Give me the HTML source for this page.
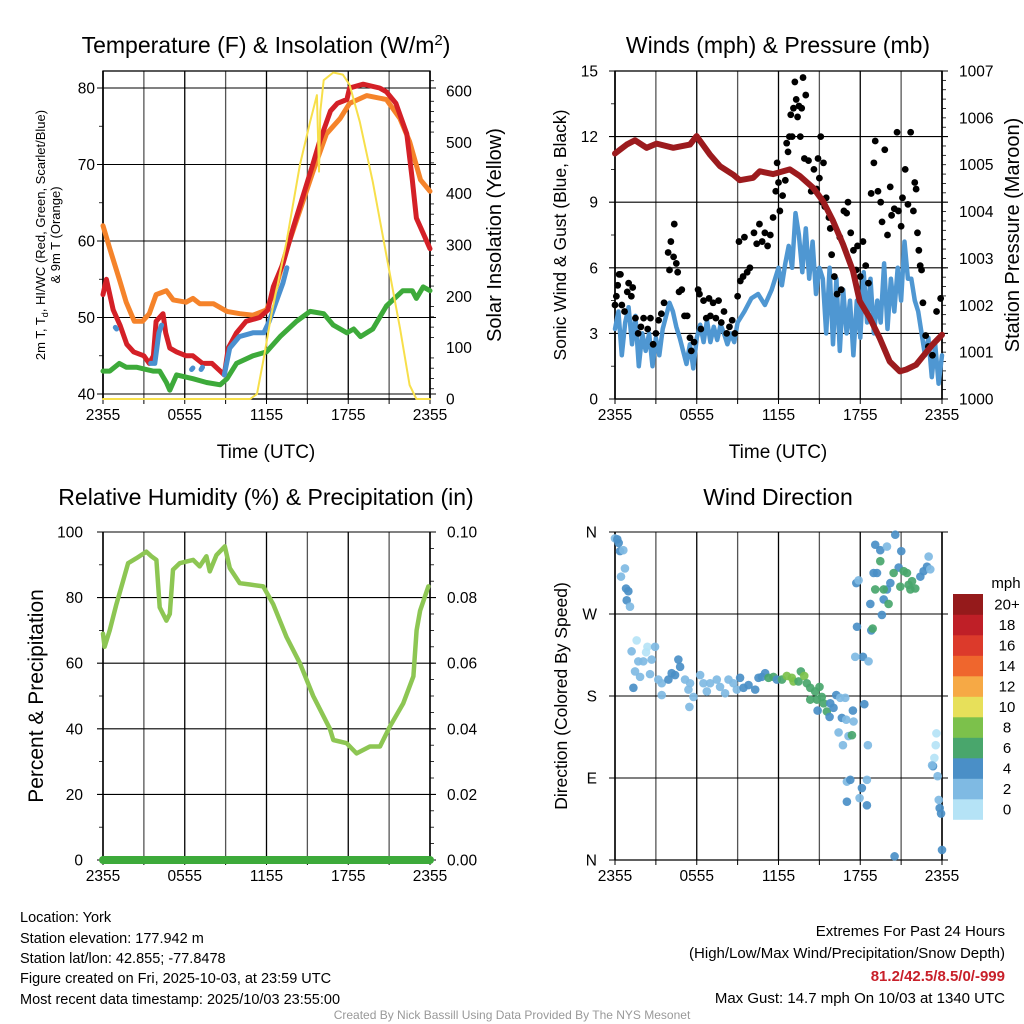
<!DOCTYPE html>
<html><head><meta charset="utf-8"><style>
html,body{margin:0;padding:0;background:#fff;}
svg{display:block;font-family:"Liberation Sans",Arial,sans-serif;}
</style></head><body>
<svg id="root" width="1024" height="1024" viewBox="0 0 1024 1024" xmlns="http://www.w3.org/2000/svg">
<g id="layer"></g>
<text x="266" y="53" font-size="23" text-anchor="middle">Temperature (F) &amp; Insolation (W/m<tspan dy="-8" font-size="15">2</tspan><tspan dy="8">)</tspan></text>
<text x="778" y="53" font-size="23" text-anchor="middle">Winds (mph) &amp; Pressure (mb)</text>
<text x="266" y="505" font-size="23" text-anchor="middle">Relative Humidity (%) &amp; Precipitation (in)</text>
<text x="778" y="505" font-size="23" text-anchor="middle">Wind Direction</text>
<text x="266" y="458" font-size="19" text-anchor="middle">Time (UTC)</text>
<text x="778" y="458" font-size="19" text-anchor="middle">Time (UTC)</text>
<text transform="translate(45,235) rotate(-90)" font-size="13" text-anchor="middle">2m T, T<tspan dy="3" font-size="9">d</tspan><tspan dy="-3">, HI/WC (Red, Green, Scarlet/Blue)</tspan></text>
<text transform="translate(60,235) rotate(-90)" font-size="13" text-anchor="middle">&amp; 9m T (Orange)</text>
<text transform="translate(501,235) rotate(-90)" font-size="20" text-anchor="middle">Solar Insolation (Yellow)</text>
<text transform="translate(566,235) rotate(-90)" font-size="17.5" text-anchor="middle">Sonic Wind &amp; Gust (Blue, Black)</text>
<text transform="translate(1019,235) rotate(-90)" font-size="20" text-anchor="middle">Station Pressure (Maroon)</text>
<text transform="translate(43,696) rotate(-90)" font-size="21" text-anchor="middle">Percent &amp; Precipitation</text>
<text transform="translate(567,696) rotate(-90)" font-size="17.5" text-anchor="middle">Direction (Colored By Speed)</text>
<text x="1006" y="588" font-size="15" text-anchor="middle">mph</text>
<g font-size="14.5">
<text x="20" y="922">Location: York</text>
<text x="20" y="943">Station elevation: 177.942 m</text>
<text x="20" y="963">Station lat/lon: 42.855; -77.8478</text>
<text x="20" y="983">Figure created on Fri, 2025-10-03, at 23:59 UTC</text>
<text x="20" y="1004">Most recent data timestamp: 2025/10/03 23:55:00</text>
</g>
<g font-size="15" text-anchor="end">
<text x="1005" y="936">Extremes For Past 24 Hours</text>
<text x="1005" y="958">(High/Low/Max Wind/Precipitation/Snow Depth)</text>
<text x="1005" y="981" fill="#c8202a" font-weight="bold">81.2/42.5/8.5/0/-999</text>
<text x="1005" y="1003">Max Gust: 14.7 mph On 10/03 at 1340 UTC</text>
</g>
<text x="512" y="1019" font-size="12" fill="#999" text-anchor="middle">Created By Nick Bassill Using Data Provided By The NYS Mesonet</text>
</svg>
<script>
// ---- data ----
const xTickLabels=["2355","0555","1155","1755","2355"];
const tempT=[0,0.25,0.75,1.25,1.75,2.25,3,3.4,3.7,3.9,4.4,4.6,4.9,5.4,6.1,6.6,7.3,8.0,8.6,8.9,9.2,9.8,10.5,11.5,12.1,12.5,13.2,14,14.7,15.4,15.9,16.7,17.2,17.9,18.1,19.1,20.3,20.8,21.5,22.3,22.7,23,23.5,24];
const tempV=[53,55,51,49,46.5,45.5,45,44,45,49.5,50.5,48,46,45.5,45,45,44,44,43,42.5,46,48,49.5,50,51,54,57,62,66,70,73,77,78,78.5,80,80.5,80,79.5,78,74,68,63,61,59];
const t9T=[0,0.5,1.2,1.7,2.3,2.9,3.4,3.9,4.65,5.15,6.1,6.6,7.1,8.1,9.1,10.05,11,12,12.7,13.5,14.45,15.4,16.4,17.4,18.1,19.35,20.8,21.8,22.5,23.3,24];
const t9V=[62,59,55,52,49.5,49.5,50.5,53,53.5,52.3,52,52.5,51.8,51.8,50.8,50.5,50.3,51,54,59,64,69,74,76,78,79,78.5,76,73,68,66.5];
const tdT=[0,0.5,1.2,1.7,2.45,3.67,4.16,4.65,4.9,5.4,6.6,7.6,8.6,9.1,9.8,11,12,13,14.2,15.2,16.2,16.9,17.9,18.4,18.9,19.8,20.8,22,22.7,23,23.5,24];
const tdV=[43,43,44,43.5,43.5,43,43,41.5,40.5,42.5,42,41.5,41.2,42,44,45,45.5,47.5,49.5,50.8,50.5,49,48,48.5,47.5,48.5,51.5,53.5,53.5,52.5,54,53.5];
const hiT=[0.9,1.0,null,3.5,3.8,4.1,4.3,null,6.5,6.6,null,7.2,7.3,null,8.9,9.3,10,11,11.8,12.2,12.7,13.2,13.5];
const hiV=[48.7,48.5,null,44,44,48,49,null,43.2,43.4,null,43.2,43.5,null,42.5,46,47.5,48,48,49.5,52,54.5,56.5];
const solT=[0,10.8,11.3,11.8,12.35,13.47,14.45,15.2,15.7,15.85,15.95,16.2,16.9,17.6,18.1,18.85,19.8,20.8,21.8,22.5,23,24];
const solV=[0,0,10,80,164,306,456,540,592,443,560,621,636,632,612,540,423,280,138,27,0,0];

const presT=[0,0.86,1.47,2.32,3.05,4.28,5.5,5.99,6.96,7.7,8.67,9.16,10.14,10.63,11.6,12.83,13.56,14.54,15.27,16.0,16.74,17.47,17.96,18.7,19.43,20.16,20.9,21.38,22.1,22.6,23.3,24];
const presV=[1005.24,1005.43,1005.52,1005.36,1005.45,1005.36,1005.43,1005.61,1005.22,1004.97,1004.79,1004.67,1004.72,1004.86,1004.8,1004.9,1004.76,1004.51,1004.22,1003.8,1003.3,1002.73,1002.09,1001.73,1001.3,1000.8,1000.59,1000.63,1000.73,1000.91,1001.16,1001.37];
const windT=[0,0.25,0.5,0.75,1,1.25,1.5,1.75,2,2.25,2.5,2.75,3,3.25,3.5,3.75,4,4.25,4.5,4.75,5,5.25,5.5,5.75,6,6.25,6.5,6.75,7,7.25,7.5,7.75,8,8.25,8.5,8.75,9,9.5,10,10.5,11,11.5,12,12.25,12.5,12.75,13,13.25,13.5,13.75,14,14.25,14.5,14.75,15,15.25,15.5,15.75,16,16.25,16.5,16.75,17,17.25,17.5,17.75,18,18.25,18.5,18.75,19,19.25,19.5,19.75,20,20.25,20.5,20.75,21,21.25,21.5,21.75,22,22.25,22.5,22.75,23,23.25,23.5,23.75,24];
const windV=[3.2,4,2,3.5,4.2,2.5,3.8,1.5,3,2.2,3,1.5,2.8,2,3.2,3.8,4.4,4,3.3,2.8,2.2,1.6,2.5,1.4,2.8,3.4,2.6,3.6,2.6,3.3,2.7,3.4,3,2.5,3,2.6,3.5,4,4.6,4.8,4.3,5,6,5.2,6.2,7,6,8.5,7.5,5.8,7.8,5.5,7.2,4.8,6,5.5,3,6,2.5,5.5,2.2,5,3,4.5,2,4.5,2.8,5.8,3.5,5.5,3,4.5,3.5,6.2,3.2,5.5,4,6,4.5,7.2,5.5,5.5,4.5,4,3,2,2.8,1,2.5,0.7,2];
const gustT=[0,0.1,0.2,0.3,0.4,0.5,0.7,0.9,1,1.2,1.3,1.5,1.7,1.9,2.1,2.4,2.6,2.8,3,3.2,3.4,3.6,3.9,4,4.1,4.3,4.35,4.5,4.6,4.7,4.9,5.1,5.3,5.5,5.6,5.8,6.1,6.2,6.3,6.5,6.7,6.9,7,7.2,7.4,7.6,7.8,8,8.2,8.4,8.6,8.8,9,9.1,9.2,9.4,9.5,9.7,9.9,10.2,10.4,10.6,10.8,11,11.2,11.4,11.6,11.8,11.9,12,12.1,12.3,12.5,12.6,12.7,12.8,12.9,13,13.1,13.2,13.3,13.4,13.5,13.6,13.7,13.8,13.9,14,14.2,14.4,14.6,14.8,14.9,15,15.1,15.2,15.3,15.4,15.5,15.7,15.8,15.9,16.1,16.3,16.5,16.6,16.8,17,17.1,17.3,17.5,17.7,17.8,18,18.2,18.4,18.6,18.8,19,19.1,19.3,19.5,19.6,19.8,20,20.2,20.3,20.5,20.7,20.8,21,21.1,21.3,21.5,21.7,21.9,22,22.1,22.2,22.3,22.4,22.5,22.6,22.8,23,23.3,23.6,23.9];
const gustV=[4.3,4.7,5.2,5.7,5.7,4.3,4,4.9,5.3,4.7,5.1,3.7,3,3.3,3.7,3.2,3.7,2.5,3,3.6,3.9,4.4,6.7,5.9,7.2,6.5,8,6.2,5.8,4.9,5,3.8,3.8,2.8,2.2,2.6,5,4.8,3.2,4.5,3.7,4.6,3.8,4.4,3.7,4.5,3.5,4,3,3.3,3.6,3,4.7,7.2,5.4,5.6,7.4,5.8,6,7.6,7.1,8,7.2,7.6,7,7.5,8.3,9.5,10.8,9.9,8.6,9.3,10,11.7,11.3,12,13,12,13.3,14.5,13.7,12.9,13.4,12,13.3,14.7,11,13.9,10.9,9.5,10.5,9.6,11,10.1,12,9,10.8,8.8,9.2,8.3,7.8,6.6,5.6,4.8,7.4,5,8.6,8.5,9,7.6,6.8,5.9,7,5.6,7.2,6.1,5.3,9.4,10.8,11.8,9.5,9,8.1,11.4,7.5,9.7,8.4,8.7,12.2,8.6,7.9,9.2,10.5,8.9,12.2,8.6,9.9,9.6,7.6,6.8,6.1,5.9,4.4,2.9,2.4,2,4,4.6];

const rhT=[0,0.12,0.49,0.98,1.47,1.84,2.45,3.18,3.55,3.92,4.16,4.65,4.9,5.14,5.63,6.61,7.1,7.59,7.84,8.33,8.94,9.31,10.04,10.78,11.76,12.49,13.47,14.45,15.43,16.65,16.9,17.88,18.61,19.59,20.33,21.06,22.04,22.78,23.02,23.27,23.88];
const rhV=[69,65,70,78,85,90.5,92,94,92.6,91.5,77,73,75,88.5,90.5,91.5,89.5,92.6,88,93,95.6,89,84.4,84,83.4,78,68,60,50,40,36.6,35.6,32.5,34.6,34.6,40.7,47.8,56,70,76,83.4];
const precipT=[0,24];
const precipV=[0,0];

const dirT=[0,0.17,0.27,0.37,0.61,0.73,0.44,0.81,0.98,0.86,1.1,1.59,1.22,2.38,2.28,2.94,1.71,2.08,2.69,1.47,1.84,2.57,1.35,3.18,3.43,3.43,3.92,4.16,4.65,4.78,4.41,5.14,5.51,5.39,5.46,5.76,6.25,6.49,6.74,6.98,7.47,7.71,8.08,8.33,8.69,8.94,9.18,9.43,9.8,10.29,10.53,10.78,11.02,11.27,11.63,11.88,12.25,12.61,12.98,13.1,13.47,13.64,13.89,14.08,14.33,14.69,15.01,15.18,14.33,14.82,15.31,15.55,14.87,15.75,15.8,16.04,16.24,16.53,16.9,16.65,16.97,17.46,17.51,16.41,17.14,17.39,16.73,18.56,18.3,18.2,17.63,18.61,17.76,18.81,18.91,17.71,17.88,18.74,19.59,19.72,20.08,19.96,19.1,19.72,19.23,18.98,19.47,19.1,19.47,19.96,20.57,21.01,20.82,20.45,20.21,20.94,21.19,21.43,21.55,21.68,21.8,22.04,22.41,22.65,22.9,23.02,23.14,17.02,17.27,17.95,18.12,18.49,17.02,18.49,23.59,23.54,23.44,23.34,23.27,23.68,23.76,23.83,23.93,24,20.52];
const dirDeg=[353,352,348,339,340,320,311,298,295,285,278,241,229,234,228,234,218,218,220,207,201,204,189,198,194,181,198,205,220,212,203,198,194,187,168,179,203,194,185,194,198,190,183,198,194,187,200,189,192,187,200,201,205,200,201,198,198,202,200,196,196,207,202,194,189,185,190,179,176,176,172,163,164,157,172,167,181,178,178,156,154,164,152,140,136,137,126,126,171,223,223,218,256,252,254,304,307,281,269,286,281,297,297,297,315,315,328,346,340,344,357,339,321,315,304,300,317,315,302,297,306,298,311,317,322,333,319,86,88,68,79,88,64,60,139,126,112,103,104,92,66,57,51,11,4];
const dirSpd=[2,4,4,4,2,2,2,4,4,4,2,0,2,0,0,2,2,2,2,2,2,2,4,2,2,2,4,4,4,4,4,2,2,2,2,2,2,2,2,2,2,2,2,2,2,2,4,4,4,4,4,4,4,6,6,4,6,8,8,8,6,6,8,6,6,6,6,6,6,6,6,6,4,4,4,4,4,2,2,4,2,4,2,2,2,6,2,2,4,4,2,2,4,4,6,4,2,4,4,4,6,4,6,6,4,4,6,4,4,2,4,4,4,6,4,6,6,6,6,6,6,6,4,4,4,2,2,2,4,2,4,2,4,4,0,0,0,4,2,2,2,4,4,4,4];
const speedBins=["0","2","4","6","8","10","12","14","16","18","20+"];
const speedColors=["#b5e3f6","#7fbae3","#4a8fc7","#49a66c","#7cc14b","#e7e05a","#f6a945","#ef662d","#dc3a2b","#bf1f27","#951a1b"];

// ---- helpers ----
const NS="http://www.w3.org/2000/svg";
const layer=document.getElementById('layer');
const TF=15.5;
function el(tag,attrs,parent){const e=document.createElementNS(NS,tag);for(const k in attrs)e.setAttribute(k,attrs[k]);(parent||layer).appendChild(e);return e;}
function lin(d0,d1,r0,r1){return v=>r0+(v-d0)*(r1-r0)/(d1-d0);}
function pathFrom(ts,vs,sx,sy){let d="",pen=false;for(let i=0;i<ts.length;i++){if(ts[i]===null){pen=false;continue;}d+=(pen?"L":"M")+sx(ts[i]).toFixed(1)+","+sy(vs[i]).toFixed(1);pen=true;}return d;}

function frame(name,x0,x1,y0,y1,hGrid,sy,opts){
  const g=el('g',{});
  
  
  const sx=lin(0,24,x0,x1);
  for(let h=0;h<=24;h+=3){const x=sx(h);const l=el('line',{x1:x,x2:x,y1:y0,y2:y1,stroke:(h%6===0)?'#000':'#555','stroke-width':1.3},g);
    el('line',{x1:x,x2:x,y1:y1,y2:y1+5,stroke:'#000','stroke-width':1},g);}
  xTickLabels.forEach((lab,i)=>{const t=el('text',{x:sx(i*6),y:y1+21,'font-size':TF,'text-anchor':'middle'},g);t.textContent=lab;});
  hGrid.forEach(v=>{const y=sy(v);const l=el('line',{x1:x0-6,x2:x1+6,y1:y,y2:y,stroke:'#000','stroke-width':1.1},g);});
  if(opts&&opts.box){el('rect',{x:x0,y:y0,width:x1-x0,height:y1-y0,fill:'none',stroke:'#000','stroke-width':1.3},g);}
  el('line',{x1:x0,x2:x0,y1:y0,y2:y1,stroke:'#000','stroke-width':1.5},g);
  el('line',{x1:x1,x2:x1,y1:y0,y2:y1,stroke:'#000','stroke-width':1.5},g);
  el('line',{x1:x0,x2:x1,y1:y1,y2:y1,stroke:'#000','stroke-width':1.3},g);
  return sx;
}
function yLabels(vals,fmt,sy,x,anchor,name){vals.forEach(v=>{const t=el('text',{x:x,y:sy(v)+5.5,'font-size':TF,'text-anchor':anchor});t.textContent=fmt(v);});}
function minorTicks(vals,sy,x,dir){vals.forEach(v=>{el('line',{x1:x,x2:x+dir*4,y1:sy(v),y2:sy(v),stroke:'#000','stroke-width':0.8});});}
function line(ts,vs,sx,sy,color,w,name){const p=el('path',{d:pathFrom(ts,vs,sx,sy),fill:'none',stroke:color,'stroke-width':w,'stroke-linejoin':'round','stroke-linecap':'round'});return p;}

// ---- panel 1: temperature ----
(function(){
  const x0=103,x1=430,y0=71,y1=399;
  const sy=lin(40,80,394,88);
  const sr=lin(0,600,399,91);
  const sx=frame('temp',x0,x1,y0,y1,[40,50,60,70,80],sy,{box:true});
  yLabels([40,50,60,70,80],v=>v,sy,x0-8,'end','temp-y-tick-label');
  yLabels([0,100,200,300,400,500,600],v=>v,sr,x1+16,'start','insolation-y-tick-label');
  minorTicks([45,55,65,75],sy,x0,-1);
  minorTicks([20,40,60,80,120,140,160,180,220,240,260,280,320,340,360,380,420,440,460,480,520,540,560,580,620],sr,x1,1);
  line(t9T,t9V,sx,sy,'#f5832a',5,'temp-9m-line');
  line(tdT,tdV,sx,sy,'#3daa3a',5,'dewpoint-line');
  line(tempT,tempV,sx,sy,'#d42027',5,'temp-2m-line');
  line(hiT,hiV,sx,sy,'#4a90cf',5,'heat-index-line');
  line(solT,solV,sx,sr,'#f7df4a',2,'insolation-line');
})();

// ---- panel 2: winds ----
(function(){
  const x0=615,x1=942,y0=71,y1=399;
  const sy=lin(0,15,399,71);
  const sp=lin(1000,1007,399,71);
  const sx=frame('wind',x0,x1,y0,y1,[0,3,6,9,12,15],sy,{box:true});
  yLabels([0,3,6,9,12,15],v=>v,sy,x0-17,'end','wind-y-tick-label');
  yLabels([1000,1001,1002,1003,1004,1005,1006,1007],v=>v,sp,x1+17,'start','pressure-y-tick-label');
  minorTicks([1.5,4.5,7.5,10.5,13.5],sy,x0,-1);
  const pm=[];for(let p=1000.2;p<1007;p+=0.2)pm.push(p);minorTicks(pm,sp,x1,1);
  line(windT,windV,sx,sy,'#4f97d2',4.5,'sonic-wind-line');
  const g=el('g',{});
  
  
  gustT.forEach((t,i)=>{const c=el('circle',{cx:sx(t),cy:sy(gustV[i]),r:3.4,fill:'#000'},g);});
  line(presT,presV,sx,sp,'#9c1b1e',6,'pressure-line');
})();

// ---- panel 3: RH ----
(function(){
  const x0=103,x1=430,y0=532,y1=860;
  const sy=lin(0,100,860,532);
  const sr=lin(0,0.1,860,532);
  const sx=frame('rh',x0,x1,y0,y1,[0,20,40,60,80,100],sy,{});
  yLabels([0,20,40,60,80,100],v=>v,sy,x0-20,'end','rh-y-tick-label');
  yLabels([0,0.02,0.04,0.06,0.08,0.1],v=>v.toFixed(2),sr,x1+17,'start','precip-y-tick-label');
  minorTicks([10,30,50,70,90],sy,x0,-1);
  const pm=[];for(let p=0.005;p<0.1;p+=0.005)pm.push(p);minorTicks(pm,sr,x1,1);
  line(rhT,rhV,sx,sy,'#8dc653',4.5,'rh-line');
  line(precipT,precipV,sx,sr,'#3daa3a',8,'precip-line');
})();

// ---- panel 4: wind direction ----
(function(){
  const x0=615,x1=942,y0=532,y1=860;
  const sy=lin(0,360,860,532);
  const sx=frame('wdir',x0,x1,y0,y1,[0,90,180,270,360],sy,{});
  yLabels([0,90,180,270,360],v=>({0:'N',90:'E',180:'S',270:'W',360:'N'})[v],sy,x0-18,'end','wdir-y-tick-label');
  const g=el('g',{});
  
  
  dirT.forEach((t,i)=>{const ci=Math.min(10,Math.floor(dirSpd[i]/2));const c=el('circle',{cx:sx(t),cy:sy(dirDeg[i]),r:4.3,fill:speedColors[ci],opacity:0.92},g);});
  const cb=el('g',{});
  
  
  const top=594,bh=20.5;
  speedBins.forEach((lab,i)=>{const y=top+(10-i)*bh;const r=el('rect',{x:953,y:y,width:30,height:bh+0.3,fill:speedColors[i]},cb);
    const t=el('text',{x:1007,y:y+bh/2+5,'font-size':15,'text-anchor':'middle'},cb);t.textContent=lab;});
})();
</script>
</body></html>
